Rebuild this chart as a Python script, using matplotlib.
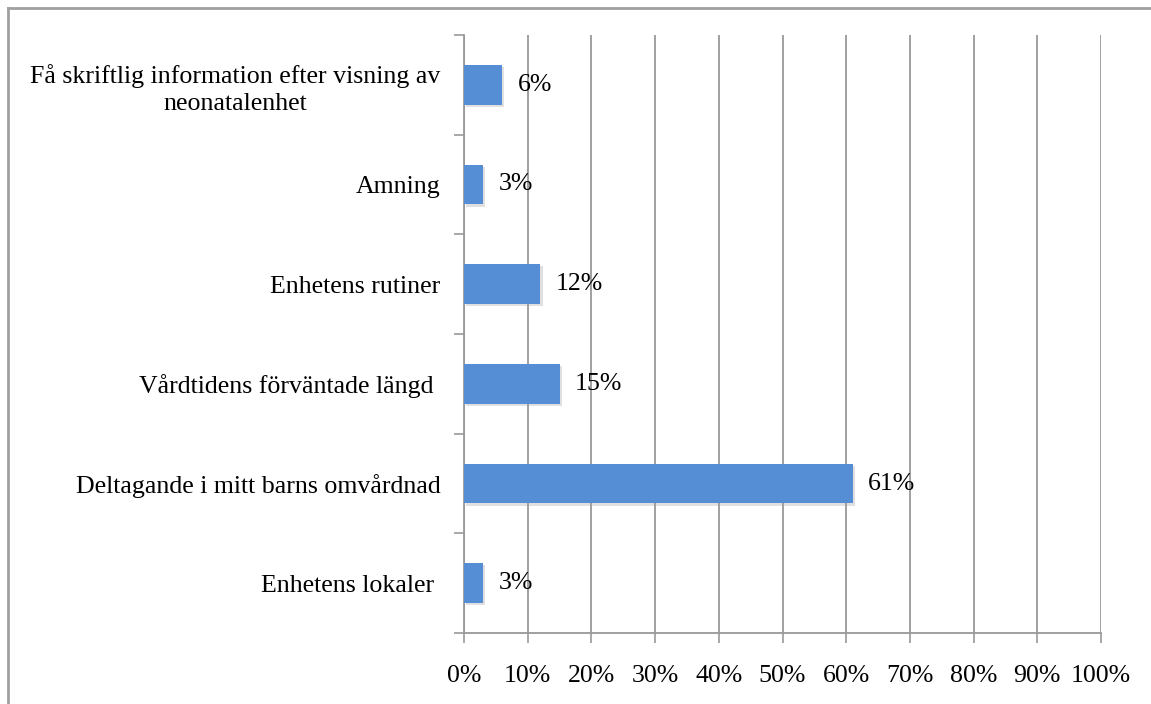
import matplotlib
matplotlib.use("Agg")
import matplotlib.pyplot as plt
from matplotlib import patheffects as pe
from matplotlib.ticker import FixedLocator

categories = [
    "Få skriftlig information efter visning av\nneonatalenhet",
    "Amning",
    "Enhetens rutiner",
    "Vårdtidens förväntade längd ",
    "Deltagande i mitt barns omvårdnad",
    "Enhetens lokaler ",
]
values = [6, 3, 12, 15, 61, 3]
xticks = [0, 10, 20, 30, 40, 50, 60, 70, 80, 90, 100]
xticklabels = [f"{t}%" for t in xticks]

plt.rcParams['font.family'] = ['Liberation Serif', 'DejaVu Serif']
FS = 18.6

W, H = 1151, 704
fig = plt.figure(figsize=(W / 100, H / 100), dpi=100)
ax = fig.add_axes([464 / W, 1 - 633 / H, (1101 - 464) / W, (633 - 35) / H])

pos = list(range(len(categories)))
bars = ax.barh(pos, values, height=0.4, color="#558ED5", zorder=3)
for b in bars:
    b.set_path_effects([pe.SimplePatchShadow(offset=(1.5, -1.5), shadow_rgbFace="#999999", alpha=0.3), pe.Normal()])

ax.set_xlim(0, 100)
ax.set_ylim(len(categories) - 0.5, -0.5)

ax.set_xticks(xticks)
ax.set_xticklabels(xticklabels, fontsize=FS)
ax.set_yticks(pos)
ax.set_yticklabels(categories, fontsize=FS, ha="right", multialignment="center", linespacing=1.3)
ax.tick_params(axis="y", which="major", length=0, pad=17)
ax.yaxis.set_minor_locator(FixedLocator([i - 0.5 for i in range(len(categories) + 1)]))
ax.tick_params(axis="y", which="minor", length=7, width=1.2, color="#999999")
ax.tick_params(axis="x", which="major", length=7, width=1.2, color="#999999", pad=16)

ax.grid(axis="x", color="#999999", linewidth=1.3, zorder=0)
for s in ["top", "right"]:
    ax.spines[s].set_visible(False)
for s in ["left", "bottom"]:
    ax.spines[s].set_color("#999999")
    ax.spines[s].set_linewidth(1.3)

for p, v in zip(pos, values):
    ax.annotate(f"{v}%", (v, p), xytext=(11, 0), textcoords="offset points",
                va="center", ha="left", fontsize=FS, zorder=4)

# figure border (top and left edges visible)
fig.add_artist(plt.Line2D([8 / W, 1], [1 - 8 / H, 1 - 8 / H], transform=fig.transFigure, color="#a0a0a0", lw=2))
fig.add_artist(plt.Line2D([8 / W, 8 / W], [0, 1 - 8 / H], transform=fig.transFigure, color="#a0a0a0", lw=2))

fig.savefig("out.png", dpi=100)
